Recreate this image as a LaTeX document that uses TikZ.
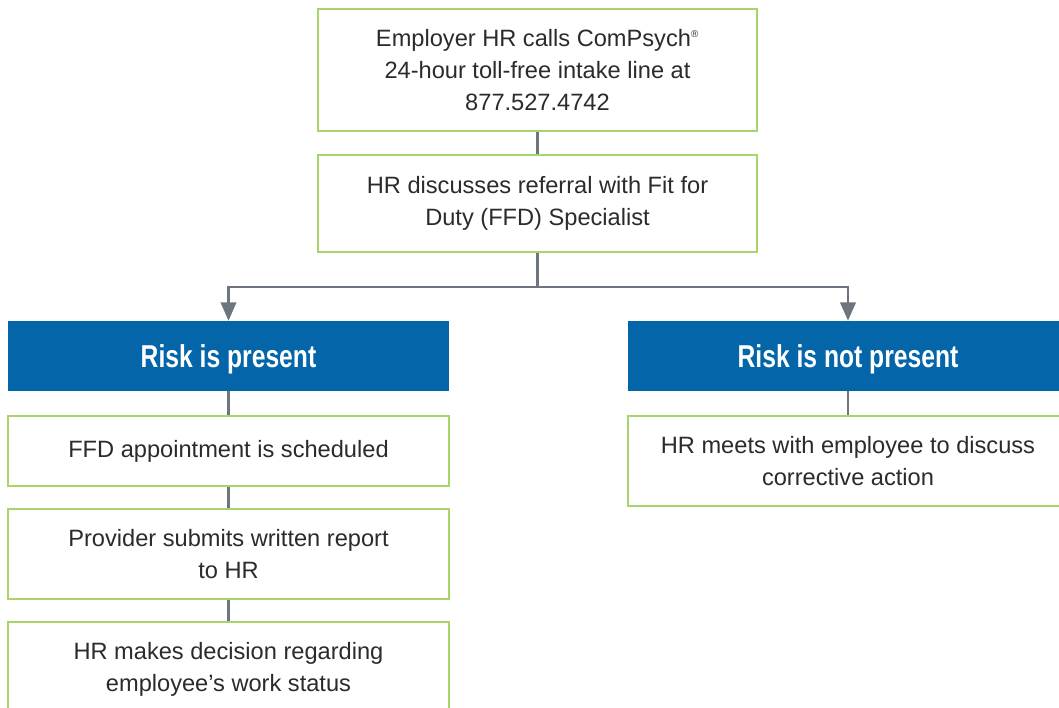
\documentclass[tikz,border=0pt]{standalone}
\usepackage{fontspec}
\setmainfont{Liberation Sans}
\newfontfamily\headfont[FakeStretch=0.78]{Liberation Sans Bold}
\usetikzlibrary{arrows.meta}
\definecolor{boxgreen}{HTML}{A9D46C}
\definecolor{riskblue}{HTML}{0565A9}
\definecolor{linegray}{HTML}{6D767E}
\definecolor{textgray}{HTML}{2B2B2B}
\tikzset{
  stepbox/.style={draw=boxgreen, line width=1.2pt, fill=white, text=textgray,
    align=center, inner sep=0pt, font=\fontsize{16.8}{22.8}\selectfont},
  riskbox/.style={fill=riskblue, text=white, inner sep=0pt, text depth=0pt,
    minimum height=1.75cm, font=\headfont\fontsize{22.5}{26}\selectfont},
  conn/.style={draw=linegray, line width=1.6pt},
  arrow/.style={conn, -{Triangle[length=13pt, width=11pt]}}
}
\begin{document}
\begin{tikzpicture}[x=0.025cm, y=-0.025cm]
  \useasboundingbox (0,0) rectangle (1059,708);

  % top of the flow
  \node[stepbox, minimum width=10.975cm, minimum height=3.05cm] (call) at (537.5,70)
    {Employer HR calls ComPsych\textsuperscript{\scriptsize\textregistered}\\24-hour toll-free intake line at\\877.527.4742};
  \node[stepbox, minimum width=10.975cm, minimum height=2.425cm] (discuss) at (537.5,203.5)
    {HR discusses referral with Fit for\\Duty (FFD) Specialist};
  \coordinate (split) at (537.5,287);

  % two outcomes
  \node[riskbox, minimum width=11.025cm] (riskyes) at (228.5,356) {Risk is present};
  \node[riskbox, minimum width=11cm] (riskno) at (848,356) {Risk is not present};

  % left column
  \node[stepbox, minimum width=11.025cm, minimum height=1.75cm] (sched) at (228.5,451)
    {FFD appointment is scheduled};
  \node[stepbox, minimum width=11.025cm, minimum height=2.25cm] (report) at (228.5,554)
    {Provider submits written report\\to HR};
  \node[stepbox, minimum width=11.025cm, minimum height=2.35cm] (decide) at (228.5,669)
    {HR makes decision regarding\\employee’s work status};

  % right column
  \node[stepbox, minimum width=11cm, minimum height=2.25cm] (action) at (848,461)
    {HR meets with employee to discuss\\corrective action};

  % connectors
  \draw[conn] (call) -- (discuss);
  \draw[conn] (discuss) -- (split);
  \draw[arrow] (split) -| (riskyes);
  \draw[arrow] (split) -| (riskno);
  \draw[conn] (riskyes) -- (sched);
  \draw[conn] (sched) -- (report);
  \draw[conn] (report) -- (decide);
  \draw[conn] (riskno) -- (action);
\end{tikzpicture}
\end{document}
